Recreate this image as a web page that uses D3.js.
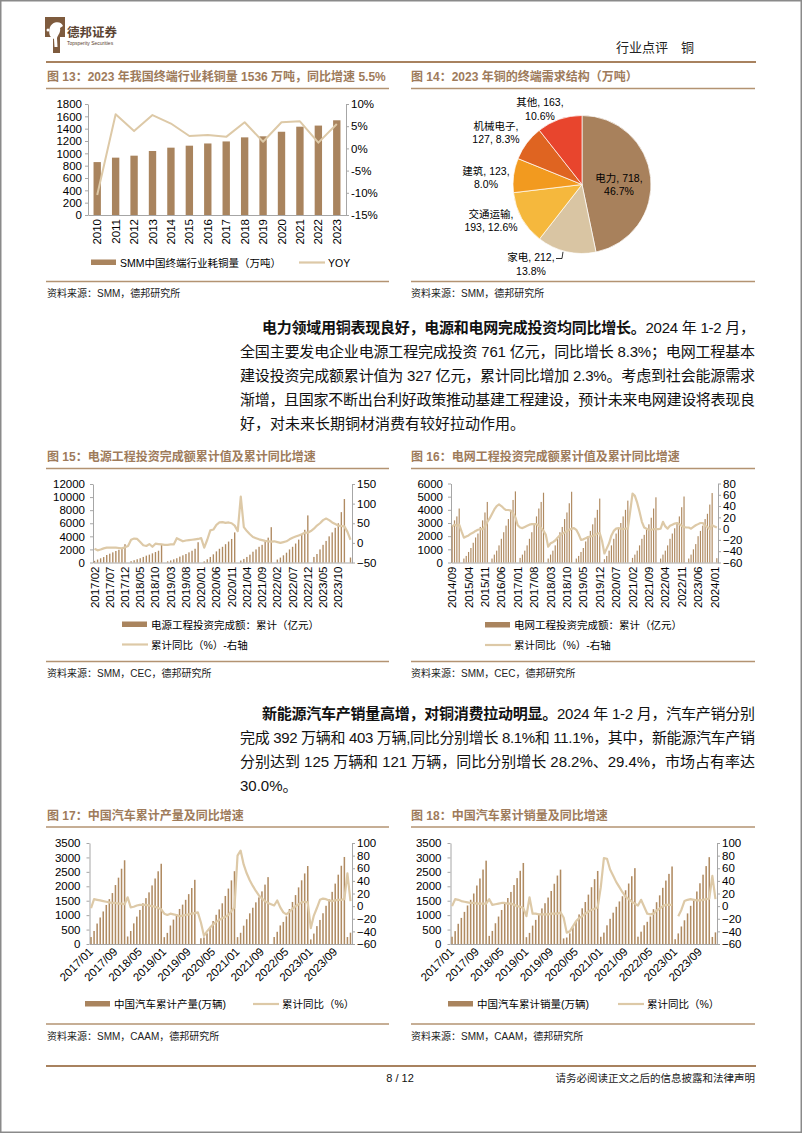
<!DOCTYPE html>
<html>
<head>
<meta charset="utf-8">
<script src="https://cdn.jsdelivr.net/npm/d3@7"></script>
<style>
  body { margin: 0; background: #fff; }
  svg text { font-family: "Liberation Sans", Arial, "Noto Sans CJK SC", sans-serif; }
</style>
</head>
<body>
<svg id="page" width="802" height="1133"></svg>
<script>
// ---------- data ----------
// fig 13
var years13 = ["2010","2011","2012","2013","2014","2015","2016","2017","2018","2019","2020","2021","2022","2023"];
var copperUse = [858, 930, 962, 1038, 1092, 1124, 1160, 1193, 1259, 1276, 1350, 1432, 1450, 1536];
var copperYoy = [-10.5, 7.7, 3.9, 7.5, 5.6, 2.8, 3.0, 2.6, 5.9, 1.5, 5.9, 6.1, 1.3, 5.5];

// fig 14
var pieCats = ["电力", "家电", "交通运输", "建筑", "机械电子", "其他"];
var pieVals = [718, 212, 193, 123, 127, 163];
var piePct = ["46.7%", "13.8%", "12.6%", "8.0%", "8.3%", "10.6%"];

// fig 15 电源 (2017/02 - 2024/02)
var powerInv = [
  250, 450, 640, 830, 1150, 1350, 1550, 1760, 1950, 2150, 2800,
  0, 200, 350, 500, 650, 850, 1050, 1200, 1400, 1600, 1800, 2700,
  0, 180, 320, 480, 650, 900, 1100, 1300, 1550, 1800, 2100, 3100,
  0, 170, 500, 850, 1250, 1700, 2100, 2400, 2800, 3200, 3600, 4600,
  0, 300, 550, 850, 1200, 1650, 2000, 2400, 2700, 3200, 3800, 5400,
  0, 450, 750, 1100, 1500, 2000, 2400, 2900, 3500, 4300, 5000, 7200,
  0, 850, 1300, 2000, 2700, 3300, 4000, 4600, 5300, 6000, 7700, 9700,
  0, 761];
var powerYoy = [
  -15, -19, -17, -14, -12, -12, -12, -12, -13, -14, -11,
  -8, 8, 11, 10, 2, -6, -8, -3, -10, -2, -3, -4,
  -5, -5, -4, -4, 12, 8, 4, 6, 7, 8, 9, 10,
  12, -12, 8, 32, 34, 46, 52, 53, 51, 52, 50, 44,
  30, 118, 40, 30, 22, 15, 12, 9, 7, 5, 4, 3,
  4, 2, 0, 2, 4, 9, 13, 16, 19, 22, 26, 26,
  30, 36, 44, 50, 58, 62, 58, 52, 48, 44, 43, 42,
  28, 8];

// fig 16 电网 (2014/09 - 2024/02)
var gridInv = [
  2800, 3200, 3500, 4100,
  0, 300, 500, 800, 1100, 1500, 1900, 2200, 2700, 3200, 3800, 4600,
  0, 300, 600, 900, 1300, 1800, 2300, 2800, 3300, 4000, 4750, 5400,
  0, 350, 600, 900, 1300, 1800, 2300, 2900, 3500, 4100, 4600, 5300,
  0, 300, 600, 900, 1300, 1800, 2300, 2700, 3300, 3800, 4500, 5373,
  0, 300, 500, 800, 1100, 1600, 2000, 2400, 2900, 3400, 4000, 4856,
  0, 250, 500, 900, 1300, 1800, 2200, 2600, 3000, 3500, 4000, 4699,
  0, 350, 600, 900, 1300, 1800, 2100, 2500, 2900, 3400, 4100, 4951,
  0, 300, 600, 900, 1300, 1800, 2200, 2600, 3000, 3500, 4200, 5012,
  0, 300, 600, 1000, 1400, 2000, 2400, 2800, 3300, 3700, 4400, 5275,
  0, 327];
var gridYoy = [
  4, 7, 5, 7,
  -5, -16, -14, -12, -9, -7, -4, -2, -1, -1, 4, 12,
  18, 26, 34, 40, 43, 40, 36, 33, 33, 32, 27, 20,
  6, 2, 1, 3, 5, 7, 8, 8, 8, 5, 1, -4,
  -11, -32, -26, -24, -21, -16, -12, -9, -7, -4, -2, 0,
  1, -2, -10, -20, -19, -17, -15, -14, -13, -11, -9, -8,
  -22, -44, -35, -26, -12, -4, 0, 1, 0, -1, 0, 0,
  30, 62, 58, 46, 30, 12, 2, 0, -2, -2, -1, -1,
  -1, 0, 12, 4, 0, 5, 7, 9, 10, 8, 5, 3,
  2, 2, 0, 3, 6, 8, 10, 10, 5, 3, -1, 6,
  4, 2];

// fig 17 汽车产量 (2017/01 - 2024/02)
var carProd = [
  241, 452, 709, 919, 1128, 1353, 1555, 1765, 2043, 2299, 2609, 2902,
  260, 450, 715, 950, 1180, 1410, 1590, 1790, 2030, 2270, 2520, 2781,
  237, 385, 641, 846, 1039, 1214, 1364, 1531, 1728, 1939, 2224, null,
  199, 227, 370, 578, 797, 1012, 1199, 1410, 1665, 1921, 2205, 2523,
  238, 388, 635, 858, 1063, 1257, 1444, 1616, 1824, 2058, 2317, null,
  242, 423, 644, 765, 958, 1212, 1457, 1695, 1962, 2207, 2445, 2702,
  159, 362, 620, 833, 1066, 1325, 1549, 1807, 2093, 2402, 2711, 3016,
  241, 392];
var carProdYoy = [
  -3, 11, 10, 9, 8, 7, 6, 5, 5, 4, 4, 3,
  14, -2, -1, 1, 2, 2, 2, 1, 0, -1, -3, -5,
  -12, -14, -12, -13, -14, -16, -15, -14, -13, -12, -11, -10,
  -26, -47, -40, -34, -29, -25, -22, -19, -17, -14, -8, -2,
  80, 88, 66, 52, 41, 32, 24, 17, 12, 8, 5, 3,
  1, 9, -2, -10, -13, -9, -4, 0, 3, 6, 7, 6,
  -35, -15, -3, 10, 12, 11, 9, 8, 9, 10, 10, 11,
  52, 8];

// fig 18 汽车销量 (2017/01 - 2024/02)
var carSales = [
  252, 446, 700, 904, 1113, 1335, 1532, 1750, 2027, 2271, 2580, 2888,
  281, 453, 719, 951, 1179, 1406, 1594, 1804, 2044, 2283, 2537, 2808,
  237, 385, 637, 836, 1028, 1233, 1413, 1610, 1837, 2088, 2372, 2577,
  194, 225, 368, 576, 795, 1025, 1237, 1455, 1711, 1968, 2247, 2531,
  250, 395, 648, 873, 1086, 1289, 1475, 1655, 1862, 2096, 2349, 2628,
  253, 427, 650, 769, 955, 1206, 1448, 1686, 1947, 2198, 2430, 2686,
  165, 366, 607, 822, 1060, 1323, 1562, 1820, 2105, 2402, 2700, 3009,
  244, 403];
var carSalesYoy = [
  0, 11, 10, 8, 7, 6, 5, 5, 4, 4, 4, 4,
  11, 2, 3, 4, 5, 5, 4, 4, 2, 0, -1, -3,
  -16, 14, -12, -12, -13, -13, -13, -13, -12, -12, -12, -10,
  -18, -42, -40, -32, -24, -19, -16, -12, -9, -6, -4, -2,
  30, 76, 75, 58, 48, 38, 30, 22, 15, 11, 7, 4,
  1, 10, -1, -12, -13, -12, -7, -4, 0, 2, 2, 2,
  null, -16, -6, 8, 10, 11, 10, 9, 9, 10, 11, 12,
  48, 11];

// ---------- helpers ----------
function monthRange(y0, m0, y1, m1) {
  var out = [];
  var y = y0, m = m0;
  while (y < y1 || (y === y1 && m <= m1)) {
    out.push(y + "/" + (m < 10 ? "0" + m : m));
    m++;
    if (m > 12) { m = 1; y++; }
  }
  return out;
}

var svg = d3.select("#page");
var TITLE = "#9E7B5B", RULE = "#B39372", BAR = "#A9845E", BAR_THIN = "#B08B62", LINE = "#DDC9A7";
var CJK = "'Liberation Sans','Noto Sans CJK SC',sans-serif";

function styleAxis(sel) {
  sel.attr("font-family", CJK).attr("font-size", 11.5);
  sel.select(".domain").attr("stroke", "#A6A6A6");
  sel.selectAll(".tick line").attr("stroke", "#A6A6A6");
  sel.selectAll(".tick text").attr("fill", "#000");
}

function drawCombo(o) {
  var g = svg.append("g");
  var x = d3.scaleBand().domain(o.cats).range([o.x0, o.x1]).paddingInner(o.pad).paddingOuter(o.pad / 2);
  var yL = d3.scaleLinear().domain([o.left[0], o.left[1]]).range([o.y1, o.y0]);
  var yR = d3.scaleLinear().domain([o.right[0], o.right[1]]).range([o.y1, o.y0]);

  g.append("g").attr("transform", "translate(" + o.x0 + ",0)")
    .call(d3.axisLeft(yL).tickValues(d3.range(o.left[0], o.left[1] + 1, o.left[2]))
      .tickSizeInner(3).tickSizeOuter(0).tickPadding(o.padL || 4).tickFormat(d3.format("d")))
    .call(styleAxis);
  g.append("g").attr("transform", "translate(" + o.x1 + ",0)")
    .call(d3.axisRight(yR).tickValues(d3.range(o.right[0], o.right[1] + 0.001, o.right[2]))
      .tickSizeInner(3).tickSizeOuter(0).tickPadding(2).tickFormat(o.fmtR || d3.format("d")))
    .call(styleAxis);

  var ax = g.append("g").attr("transform", "translate(0," + o.y1 + ")")
    .call(d3.axisBottom(x).tickValues(o.cats.filter(function (d, i) { return i % o.every === 0; }))
      .tickSize(0).tickSizeOuter(0))
    .call(styleAxis);
  if (o.rot === -90) {
    ax.selectAll(".tick text").attr("transform", "rotate(-90)").attr("x", -4).attr("y", 0)
      .attr("dy", "0.35em").style("text-anchor", "end");
  } else {
    ax.selectAll(".tick text").attr("transform", "rotate(-45)").attr("x", -4).attr("y", 4)
      .attr("dy", "0.35em").style("text-anchor", "end");
  }

  var rows = o.cats.map(function (c, i) { return { c: c, b: o.bars[i], l: o.line[i] }; });
  g.append("g").selectAll("rect")
    .data(rows.filter(function (d) { return d.b != null && d.b > 0; }))
    .enter().append("rect")
    .attr("x", function (d) { return x(d.c); })
    .attr("width", x.bandwidth())
    .attr("y", function (d) { return yL(d.b); })
    .attr("height", function (d) { return yL(0) - yL(d.b); })
    .attr("fill", o.barColor);

  var line = d3.line()
    .defined(function (d) { return d.l != null; })
    .x(function (d) { return x(d.c) + x.bandwidth() / 2; })
    .y(function (d) { return yR(d.l); });
  g.append("path").datum(rows).attr("d", line)
    .attr("fill", "none").attr("stroke", LINE).attr("stroke-width", o.lw || 2.2)
    .attr("stroke-linejoin", "round");
}

function txt(x, y, s, size, opts) {
  opts = opts || {};
  return svg.append("text").attr("x", x).attr("y", y).text(s)
    .attr("font-size", size).attr("font-family", CJK)
    .attr("fill", opts.fill || "#000")
    .attr("font-weight", opts.bold ? "bold" : null)
    .attr("text-anchor", opts.anchor || null);
}
function hline(x0, x1, y, color, w) {
  svg.append("line").attr("x1", x0).attr("x2", x1).attr("y1", y).attr("y2", y)
    .attr("stroke", color).attr("stroke-width", w);
}
function legendBar(x, y, label) {
  svg.append("rect").attr("x", x).attr("y", y - 3).attr("width", 25).attr("height", 5.5).attr("fill", BAR);
  txt(x + 29, y + 4, label, 10.5);
}
function legendLine(x, y, label) {
  svg.append("line").attr("x1", x).attr("x2", x + 26).attr("y1", y).attr("y2", y)
    .attr("stroke", LINE).attr("stroke-width", 2.2);
  txt(x + 29, y + 4, label, 10.5);
}

// ---------- page frame & header ----------
svg.append("rect").attr("x", 0.75).attr("y", 0.75).attr("width", 800.5).attr("height", 1131.5)
  .attr("fill", "#fff").attr("stroke", "#8a8a8a").attr("stroke-width", 1.5);

// logo
var logo = svg.append("g").attr("transform", "translate(45,17)");
logo.append("path").attr("d", "M0,0 H20 V20 H15 V36 H8 V20 H0 Z").attr("fill", "#7E5B3E");
logo.append("path").attr("d", "M5,19 C3,13 5,7 10,5.5 C14,4.5 17,6 18,9 L15,11 C16,15 13,18 12,21 L12.5,30 L9.5,30 L9,22 C7,21 6,20 5,19 Z").attr("fill", "#fff");
logo.append("circle").attr("cx", 3).attr("cy", 13).attr("r", 1.5).attr("fill", "#fff");
txt(67, 37, "德邦证券", 12.5, { bold: true, fill: "#5B4433" });
txt(67, 45, "Topsperity Securities", 5, { fill: "#5B4433" });
txt(694, 52, "行业点评　铜", 13, { anchor: "end", fill: "#222" });
hline(46, 756, 62, "#A8825F", 2.2);

// ---------- figure 13 ----------
txt(47, 81, "图 13：2023 年我国终端行业耗铜量 1536 万吨，同比增速 5.5%", 12, { bold: true, fill: TITLE });
hline(46, 389, 88.5, RULE, 1.3);
drawCombo({
  cats: years13, bars: copperUse, line: copperYoy,
  x0: 88, x1: 346, y0: 104, y1: 215, pad: 0.6,
  left: [0, 1800, 200], right: [-15, 10, 5], fmtR: function (d) { return d + "%"; },
  every: 1, rot: -90, barColor: BAR, lw: 2, padL: 3
});
legendBar(91, 262.5, "SMM中国终端行业耗铜量（万吨）");
legendLine(299, 262.5, "YOY");
hline(46, 389, 281.5, RULE, 1.3);
txt(47, 297, "资料来源：SMM，德邦研究所", 10, { fill: "#222" });

// ---------- figure 14 ----------
txt(411, 81, "图 14：2023 年铜的终端需求结构（万吨）", 12, { bold: true, fill: TITLE });
hline(411, 755, 88.5, RULE, 1.3);
var pieColors = ["#A8815C", "#D9C5A3", "#F5B83D", "#F29A1F", "#DF6421", "#E8452D"];
var pc = { x: 582, y: 184.5 }, pr = 69;
var arcs = d3.pie().sort(null).value(function (d) { return d; })(pieVals);
var arcGen = d3.arc().innerRadius(0).outerRadius(pr);
var pg = svg.append("g").attr("transform", "translate(" + pc.x + "," + pc.y + ")");
pg.selectAll("path").data(arcs).enter().append("path")
  .attr("d", arcGen).attr("fill", function (d, i) { return pieColors[i]; })
  .attr("stroke", "#fff").attr("stroke-width", 0.7);
// label layout: centre of the two-line label relative to pie centre
var pieLabelPos = [[37, -3], [-51, 76.5], [-91, 33], [-96, -10], [-86, -55], [-42, -78.5]];
var pieLines = [
  [pieCats[0] + ", " + pieVals[0] + ",", piePct[0]],
  [pieCats[1] + ", " + pieVals[1] + ",", piePct[1]],
  [pieCats[2] + ",", pieVals[2] + ", " + piePct[2]],
  [pieCats[3] + ", " + pieVals[3] + ",", piePct[3]],
  [pieCats[4] + ",", pieVals[4] + ", " + piePct[4]],
  [pieCats[5] + ", " + pieVals[5] + ",", piePct[5]]
];
pieLines.forEach(function (ls, i) {
  var t = pg.append("text").attr("text-anchor", "middle").attr("font-size", 10.5)
    .attr("font-family", CJK).attr("fill", "#000");
  ls.forEach(function (s, j) {
    t.append("tspan").attr("x", pieLabelPos[i][0]).attr("y", pieLabelPos[i][1] + j * 13.5).text(s);
  });
});
// leader for 家电
(function () {
  var a = (arcs[1].startAngle + arcs[1].endAngle) / 2 + 0.05;
  var ex = Math.sin(a) * pr, ey = -Math.cos(a) * pr;
  pg.append("polyline")
    .attr("points", [[-26, 74], [-20, 74], [ex, ey + 1]].map(function (p) { return p.join(","); }).join(" "))
    .attr("fill", "none").attr("stroke", "#000").attr("stroke-width", 0.8);
})();
hline(411, 755, 281.5, RULE, 1.3);
txt(411, 297, "资料来源：SMM，德邦研究所", 10, { fill: "#222" });

// ---------- paragraph 1 ----------
function paragraph(lines, y0) {
  lines.forEach(function (L, i) {
    var x = L.indent ? 262 : 240;
    var t = svg.append("text").attr("x", x).attr("y", y0 + i * 24)
      .attr("font-size", 15).attr("font-family", CJK).attr("fill", "#111");
    if (L.bold) t.append("tspan").attr("font-weight", "bold").text(L.bold);
    t.append("tspan").text(L.text);
    if (L.justify) t.attr("textLength", 755 - x).attr("lengthAdjust", "spacing");
  });
}
paragraph([
  { indent: true, justify: true, bold: "电力领域用铜表现良好，电源和电网完成投资均同比增长。", text: "2024 年 1-2 月，" },
  { justify: true, text: "全国主要发电企业电源工程完成投资 761 亿元，同比增长 8.3%；电网工程基本" },
  { justify: true, text: "建设投资完成额累计值为 327 亿元，累计同比增加 2.3%。考虑到社会能源需求" },
  { justify: true, text: "渐增，且国家不断出台利好政策推动基建工程建设，预计未来电网建设将表现良" },
  { text: "好，对未来长期铜材消费有较好拉动作用。" }
], 333);

// ---------- figure 15 ----------
txt(47, 461, "图 15：电源工程投资完成额累计值及累计同比增速", 12, { bold: true, fill: TITLE });
hline(46, 389, 468.5, RULE, 1.3);
drawCombo({
  cats: monthRange(2017, 2, 2024, 2), bars: powerInv, line: powerYoy,
  x0: 93, x1: 352, y0: 484, y1: 562.5, pad: 0.55,
  left: [0, 12000, 2000], right: [-50, 150, 50],
  every: 5, rot: -90, barColor: BAR_THIN, padL: 5
});
legendBar(122, 624.5, "电源工程投资完成额：累计（亿元）");
legendLine(122, 644.5, "累计同比（%）-右轴");
hline(46, 389, 661.5, RULE, 1.3);
txt(47, 677, "资料来源：SMM，CEC，德邦研究所", 10, { fill: "#222" });

// ---------- figure 16 ----------
txt(411, 461, "图 16：电网工程投资完成额累计值及累计同比增速", 12, { bold: true, fill: TITLE });
hline(411, 755, 468.5, RULE, 1.3);
drawCombo({
  cats: monthRange(2014, 9, 2024, 2), bars: gridInv, line: gridYoy,
  x0: 451, x1: 718, y0: 483.5, y1: 562.5, pad: 0.5,
  left: [0, 6000, 1000], right: [-60, 80, 20],
  every: 7, rot: -90, barColor: BAR_THIN, padL: 5
});
legendBar(485, 625, "电网工程投资完成额：累计（亿元）");
legendLine(485, 645, "累计同比（%）-右轴");
hline(411, 755, 661.5, RULE, 1.3);
txt(411, 677, "资料来源：SMM，CEC，德邦研究所", 10, { fill: "#222" });

// ---------- paragraph 2 ----------
paragraph([
  { indent: true, justify: true, bold: "新能源汽车产销量高增，对铜消费拉动明显。", text: "2024 年 1-2 月，汽车产销分别" },
  { justify: true, text: "完成 392 万辆和 403 万辆,同比分别增长 8.1%和 11.1%，其中，新能源汽车产销" },
  { justify: true, text: "分别达到 125 万辆和 121 万辆，同比分别增长 28.2%、29.4%，市场占有率达" },
  { text: "30.0%。" }
], 719);

// ---------- figure 17 ----------
txt(47, 820, "图 17：中国汽车累计产量及同比增速", 12, { bold: true, fill: TITLE });
hline(46, 389, 827, RULE, 1.3);
drawCombo({
  cats: monthRange(2017, 1, 2024, 2), bars: carProd, line: carProdYoy,
  x0: 89.5, x1: 352, y0: 843, y1: 944, pad: 0.5,
  left: [0, 3500, 500], right: [-60, 100, 20],
  every: 8, rot: -45, barColor: BAR_THIN, padL: 6
});
legendBar(85, 1004, "中国汽车累计产量(万辆)");
legendLine(253, 1004, "累计同比（%）");
hline(46, 389, 1024, RULE, 1.3);
txt(47, 1040, "资料来源：SMM，CAAM，德邦研究所", 10, { fill: "#222" });

// ---------- figure 18 ----------
txt(411, 820, "图 18：中国汽车累计销量及同比增速", 12, { bold: true, fill: TITLE });
hline(411, 755, 827, RULE, 1.3);
drawCombo({
  cats: monthRange(2017, 1, 2024, 2), bars: carSales, line: carSalesYoy,
  x0: 450.5, x1: 717, y0: 843, y1: 944, pad: 0.5,
  left: [0, 3500, 500], right: [-60, 100, 20],
  every: 8, rot: -45, barColor: BAR_THIN, padL: 6
});
legendBar(448, 1004, "中国汽车累计销量(万辆)");
legendLine(618, 1004, "累计同比（%）");
hline(411, 755, 1024, RULE, 1.3);
txt(411, 1040, "资料来源：SMM，CAAM，德邦研究所", 10, { fill: "#222" });

// ---------- footer ----------
hline(46, 756, 1066, "#A8825F", 2.2);
txt(400, 1082, "8 / 12", 11, { anchor: "middle", fill: "#111" });
txt(755, 1082, "请务必阅读正文之后的信息披露和法律声明", 10.5, { anchor: "end", fill: "#222" });
</script>
</body>
</html>
